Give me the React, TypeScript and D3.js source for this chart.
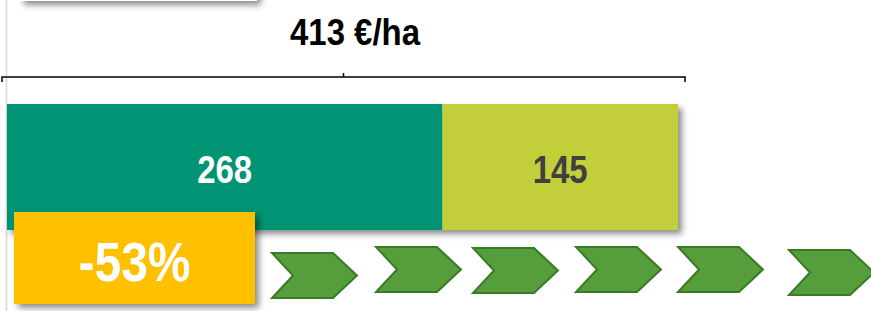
import React from 'react';
import * as d3 from 'd3';

// stacked cost bar (€/ha)
const segments = ['part1', 'part2'];
const values = [268, 145];
const segmentColors = ['#039474', '#C2CF3A'];
const labelColors = ['#FFFFFF', '#404040'];
const totalLabel = '413 €/ha';
const changeLabel = '-53%';

// chevron arrows: left edge and top edge of each
const chevronX = [272, 376, 473, 576, 678, 789];
const chevronY = [253, 247, 248, 247, 247, 250];

const width = 871;
const height = 311;
const narrow = '"Liberation Sans Narrow", "Arial Narrow", "Liberation Sans", Arial, sans-serif';

export default function App() {
    const total = d3.sum(values);
    const x = d3.scaleLinear().domain([0, total]).range([7, 678]);
    const starts = d3.cumsum([0, ...values]);
    const barTop = 104, barH = 126;
    const braceY = 77;
    const bx0 = x(0) - 5, bx1 = x(total) + 7;
    const bmid = (bx0 + bx1) / 2;

    const chev = (x0: number, y0: number) => {
        const w = 85, h = 45, tip = 24, notch = 21;
        return d3.line()([
            [x0, y0], [x0 + w - tip, y0], [x0 + w, y0 + h / 2],
            [x0 + w - tip, y0 + h], [x0, y0 + h], [x0 + notch, y0 + h / 2]
        ]) + 'Z';
    };

    return (
        <svg width={width} height={height} viewBox={`0 0 ${width} ${height}`}
            style={{ position: 'absolute', left: 0, top: 0, background: '#fff' }}>
            <defs>
                <filter id="shadow" x="-10%" y="-20%" width="130%" height="150%">
                    <feDropShadow dx="4" dy="4" stdDeviation="3" floodColor="#000" floodOpacity="0.45" />
                </filter>
            </defs>

            {/* left frame line */}
            <line x1={6.5} x2={6.5} y1={0} y2={height} stroke="#d9d9d9" strokeWidth={1.6} />

            {/* cut-off box at top */}
            <rect x={20} y={-60} width={237} height={61} fill="#fff" filter="url(#shadow)" />

            {/* total label and brace */}
            <text x={355} y={45} textAnchor="middle" fontFamily={narrow} fontWeight="bold"
                fontSize={36} fill="#000" textLength={130} lengthAdjust="spacingAndGlyphs">{totalLabel}</text>
            <path d={`M${bx0},${braceY + 5}V${braceY}H${bx1}V${braceY + 5}M${bmid},${braceY}V${braceY - 4}`}
                fill="none" stroke="#000" strokeWidth={1.5} />

            {/* stacked bar */}
            <g filter="url(#shadow)">
                {segments.map((s, i) => (
                    <rect key={s} x={x(starts[i])} y={barTop} width={x(starts[i + 1]) - x(starts[i])}
                        height={barH} fill={segmentColors[i]} />
                ))}
            </g>
            {segments.map((s, i) => (
                <text key={s + 't'} x={(x(starts[i]) + x(starts[i + 1])) / 2} y={183} textAnchor="middle"
                    fontFamily={narrow} fontWeight="bold" fontSize={38} fill={labelColors[i]}
                    textLength={55} lengthAdjust="spacingAndGlyphs">{values[i]}</text>
            ))}

            {/* change box */}
            <rect x={14} y={212} width={241} height={92} fill="#FFC000" filter="url(#shadow)" />
            <text x={134.5} y={281} textAnchor="middle" fontFamily={narrow} fontWeight="bold"
                fontSize={56} fill="#fff" textLength={112} lengthAdjust="spacingAndGlyphs">{changeLabel}</text>

            {/* chevrons */}
            {chevronX.map((cx, i) => (
                <path key={i} d={chev(cx, chevronY[i])} fill="#559E3B" stroke="#3B7A29" strokeWidth={2}
                    strokeLinejoin="miter" />
            ))}
        </svg>
    );
}
